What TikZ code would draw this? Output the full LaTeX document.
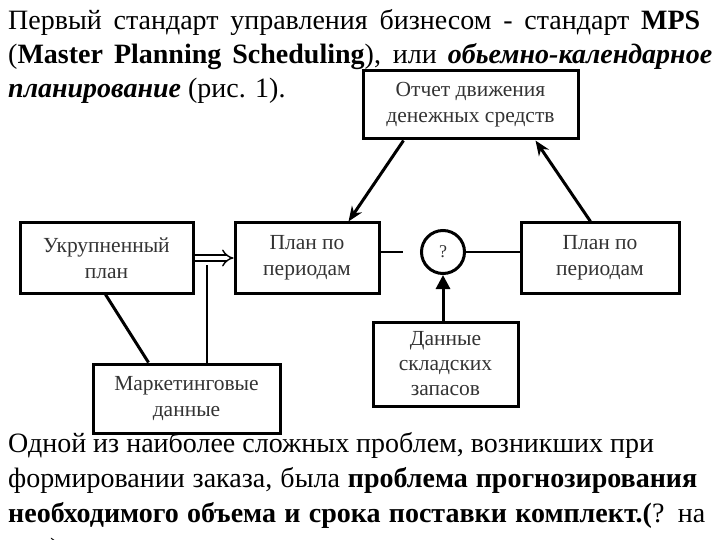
\documentclass[tikz,border=0pt]{standalone}
\usepackage{fontspec}
\setmainfont{Liberation Serif}
\usetikzlibrary{arrows.meta,calc}
\tikzset{
  box/.style={draw, line width=3pt, inner sep=0pt, align=center, text=black!80,
    font=\fontsize{21.5}{26}\selectfont},
  para/.style={anchor=base west, inner sep=0pt, font=\fontsize{28}{35}\selectfont},
  conn/.style={line width=2pt},
  thickarrow/.style={line width=3pt, -{Stealth[length=15pt,width=12pt]}},
}
\begin{document}
\begin{tikzpicture}[x=1pt,y=-1pt]
\useasboundingbox (0,0) rectangle (720,540);
% paragraph text top
\node[para] (t1) at (8,30) {\makebox[692pt][s]{Первый стандарт управления бизнесом - стандарт \textbf{MPS}}};
\node[para] (t2) at (8,64) {\makebox[704pt][s]{(\textbf{Master Planning Scheduling}), или \textbf{\textit{обьемно-календарное}}}};
\node[para] (t3) at (8,98) {\textbf{\textit{планирование}} (рис. 1).};
% boxes
\node[box, minimum width=215pt, minimum height=68pt] (otchet) at (470.5,105) {Отчет движения\\денежных средств};
\node[box, minimum width=173pt, minimum height=70pt] (ukr) at (106.5,258) {Укрупненный\\план};
\node[box, minimum width=144pt, minimum height=70pt] (plan1) at (307,258) {План по\\периодам};
\node[box, minimum width=158pt, minimum height=70pt] (plan2) at (600,258) {План по\\периодам};
\node[draw, circle, line width=3pt, minimum size=43pt, inner sep=0pt, text=black!80,
  font=\fontsize{18}{20}\selectfont] (q) at (443,252) {?};
\node[box, minimum width=145pt, minimum height=84pt, font=\fontsize{21.5}{25}\selectfont] (dannye) at (445.5,364) {Данные\\складских\\запасов};
\node[box, minimum width=187pt, minimum height=69pt] (market) at (186.5,398.5) {Маркетинговые\\данные};
% connectors
\coordinate (mk) at (207,265);
\coordinate (gap) at (403,252);
\draw[thickarrow] ([xshift=42pt]otchet.south west) -- ([xshift=115pt]plan1.north west);
\draw[thickarrow] ([xshift=71pt]plan2.north west) -- ([xshift=174pt]otchet.south west);
\draw[line width=1.4pt, double, double distance=4.5pt, -{Implies}] (ukr.east |- 0,258) -- (plan1.west |- 0,258);
\draw[conn] (market.north -| mk) -- (mk);
\draw[line width=3pt] ([xshift=87pt]ukr.south west) -- ([xshift=57pt]market.north west);
\draw[conn] (plan1.east |- q) -- (gap);
\draw[conn] (q.east) -- (plan2.west |- q);
\draw[line width=3pt, -{Triangle[length=14pt,width=14pt]}] (q.south |- dannye.north) -- (q.south);
% paragraph text bottom
\node[para] (b1) at (8,452) {Одной из наиболее сложных проблем, возникших при};
\node[para] (b2) at (8,487) {\makebox[689pt][s]{формировании заказа, была \textbf{проблема прогнозирования}}};
\node[para] (b3) at (8,522) {\makebox[697pt][s]{\textbf{необходимого объема и срока поставки комплект.(}? на}};
\node[para] (b4) at (50,557) {)};
\end{tikzpicture}
\end{document}
